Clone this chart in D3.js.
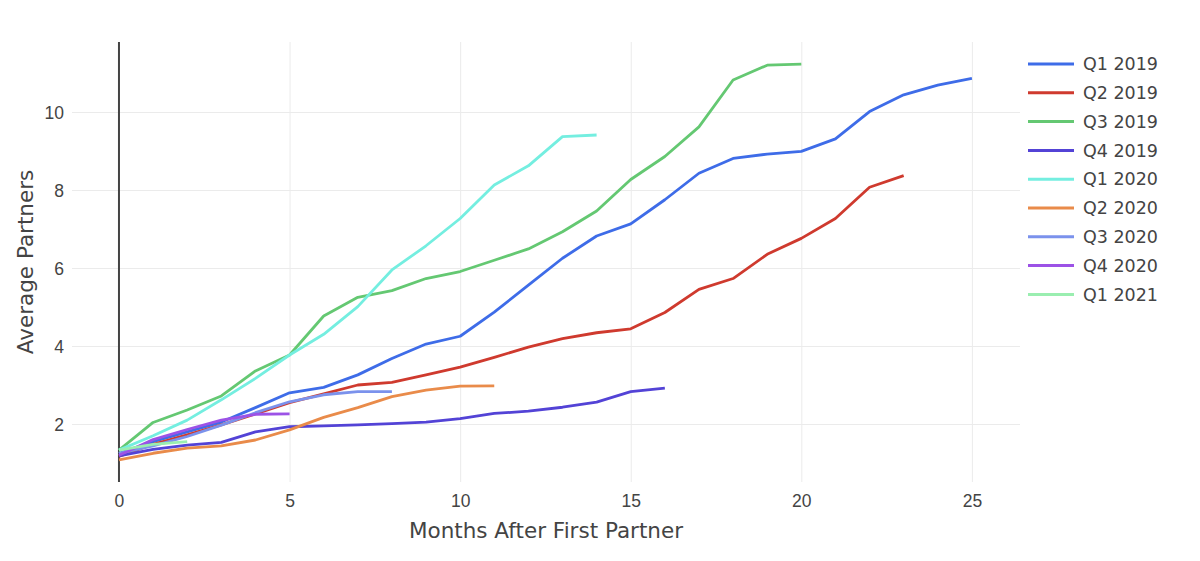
<!DOCTYPE html>
<html>
<head>
<meta charset="utf-8">
<script src="https://cdn.jsdelivr.net/npm/d3@7"></script>
<style>
  body { margin: 0; background: #fff; }
  svg { display: block; font-family: "DejaVu Sans", Verdana, sans-serif; }
  .tick text { fill: #444; font-size: 17.5px; }
</style>
</head>
<body>
<svg width="1200" height="561"></svg>
<script>
// series names and values, month index = position in the array
var seriesNames = ['Q1 2019','Q2 2019','Q3 2019','Q4 2019','Q1 2020','Q2 2020','Q3 2020','Q4 2020','Q1 2021'];
var seriesColors = ['#3e6ce8','#cf3a2e','#64c872','#5343d6','#74eee0','#e98b4a','#7b92ec','#9c52e6','#9aeeb0'];

var q1_2019 = [1.25,1.55,1.8,2.05,2.42,2.8,2.94,3.26,3.68,4.05,4.25,4.87,5.56,6.25,6.82,7.13,7.75,8.43,8.81,8.92,8.99,9.31,10.01,10.44,10.69,10.86];
var q2_2019 = [1.17,1.48,1.72,1.98,2.26,2.55,2.77,3.0,3.07,3.26,3.46,3.71,3.97,4.19,4.34,4.44,4.86,5.45,5.73,6.35,6.76,7.27,8.07,8.37];
var q3_2019 = [1.33,2.04,2.36,2.72,3.36,3.77,4.77,5.25,5.42,5.73,5.91,6.2,6.49,6.93,7.46,8.27,8.86,9.62,10.82,11.2,11.23];
var q4_2019 = [1.18,1.35,1.46,1.53,1.8,1.93,1.95,1.98,2.01,2.05,2.14,2.27,2.33,2.43,2.56,2.83,2.92];
var q1_2020 = [1.33,1.7,2.1,2.62,3.17,3.77,4.3,5.01,5.95,6.57,7.27,8.13,8.62,9.37,9.41];
var q2_2020 = [1.08,1.25,1.38,1.44,1.59,1.85,2.17,2.42,2.7,2.87,2.97,2.98];
var q3_2020 = [1.25,1.44,1.68,1.97,2.29,2.57,2.75,2.83,2.83];
var q4_2020 = [1.2,1.6,1.86,2.1,2.25,2.26];
var q1_2021 = [1.33,1.48,1.55];

var xTicks = [0,5,10,15,20,25];
var yTicks = [2,4,6,8,10];

var allSeries = [q1_2019,q2_2019,q3_2019,q4_2019,q1_2020,q2_2020,q3_2020,q4_2020,q1_2021];

var svg = d3.select('svg');
var margin = {top: 42, left: 72, right: 180, bottom: 79};
var plotWidth = 1200 - margin.left - margin.right;
var plotHeight = 561 - margin.top - margin.bottom;

var xScale = d3.scaleLinear().domain([-1.377, 26.41]).range([0, plotWidth]);
var yScale = d3.scaleLinear().domain([0.513, 11.795]).range([plotHeight, 0]);

var plot = svg.append('g').attr('id','plot')
  .attr('transform','translate('+margin.left+','+margin.top+')');

// grid
var xGrid = plot.append('g').attr('class','grid')
  .call(d3.axisBottom(xScale).tickValues(xTicks.filter(function(d){return d>0;})).tickSize(plotHeight).tickFormat(''));
xGrid.select('.domain').remove();
xGrid.selectAll('line').attr('stroke','#ebebeb').attr('stroke-width',1);

var yGrid = plot.append('g').attr('class','grid')
  .call(d3.axisLeft(yScale).tickValues(yTicks).tickSize(-plotWidth).tickFormat(''));
yGrid.select('.domain').remove();
yGrid.selectAll('line').attr('stroke','#ebebeb').attr('stroke-width',1);

// zero line
plot.append('line')
  .attr('x1',xScale(0)).attr('x2',xScale(0))
  .attr('y1',0).attr('y2',plotHeight)
  .attr('stroke','#444').attr('stroke-width',2);

// axes labels
var xAxis = plot.append('g').attr('id','x-axis')
  .attr('transform','translate(0,'+(plotHeight+8)+')')
  .call(d3.axisBottom(xScale).tickValues(xTicks).tickSize(0).tickPadding(5));
xAxis.select('.domain').remove();

var yAxis = plot.append('g').attr('id','y-axis')
  .attr('transform','translate(-6,0)')
  .call(d3.axisLeft(yScale).tickValues(yTicks).tickSize(0).tickPadding(2));
yAxis.select('.domain').remove();
yAxis.selectAll('text').attr('dy','0.35em');

// lines
var line = d3.line()
  .x(function(d,i){ return xScale(i); })
  .y(function(d){ return yScale(d); });

plot.selectAll('path.series')
  .data(allSeries)
  .enter()
  .append('path')
  .attr('class','series')
  .attr('d', line)
  .attr('fill','none')
  .attr('stroke', function(d,i){ return seriesColors[i]; })
  .attr('stroke-width', 2.8)
  .attr('stroke-linejoin','round');

// axis titles
svg.append('text')
  .text('Months After First Partner')
  .attr('text-anchor','middle')
  .attr('x', margin.left + plotWidth/2)
  .attr('y', 538)
  .attr('font-size', 21.5)
  .attr('fill','#444');

svg.append('text')
  .text('Average Partners')
  .attr('text-anchor','middle')
  .attr('transform','translate(33,'+(margin.top+plotHeight/2)+')rotate(-90)')
  .attr('font-size', 21.5)
  .attr('fill','#444');

// legend
var legend = svg.append('g').attr('id','legend')
  .attr('transform','translate(1028,64)');
var items = legend.selectAll('g.item')
  .data(seriesNames)
  .enter()
  .append('g')
  .attr('class','item')
  .attr('transform', function(d,i){ return 'translate(0,'+(i*28.8)+')'; });
items.append('line')
  .attr('x1',0).attr('x2',46)
  .attr('stroke', function(d,i){ return seriesColors[i]; })
  .attr('stroke-width', 3);
items.append('text')
  .text(function(d){ return d; })
  .attr('x', 55)
  .attr('dy','0.35em')
  .attr('font-size', 17.5)
  .attr('fill','#444');
</script>
</body>
</html>
